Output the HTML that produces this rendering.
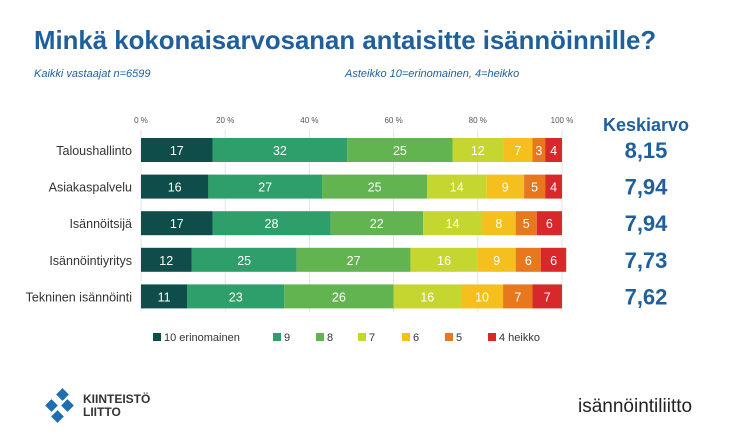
<!DOCTYPE html>
<html><head><meta charset="utf-8"><style>
body{margin:0;width:730px;height:434px;background:#fff;font-family:"Liberation Sans",sans-serif;position:relative;overflow:hidden}
.t{position:absolute;white-space:nowrap}
</style></head><body>
<div class="t" style="left:34px;top:27px;font-size:25.8px;font-weight:bold;color:#1f5f9c">Minkä kokonaisarvosanan antaisitte isännöinnille?</div>
<div class="t" style="left:34px;top:68px;font-size:11px;font-style:italic;color:#1f5f9c">Kaikki vastaajat n=6599</div>
<div class="t" style="left:345px;top:68px;font-size:11px;font-style:italic;color:#1f5f9c">Asteikko 10=erinomainen, 4=heikko</div>
<svg id="c" width="730" height="434" style="position:absolute;left:0;top:0"></svg>
<div class="t" style="left:44px;top:388px">
<svg width="36" height="36" viewBox="0 0 36 36"><g fill="#1f6fb0"><rect x="14" y="2" width="9" height="9" transform="rotate(45 18.5 6.5)"/><rect x="3" y="13" width="9" height="9" transform="rotate(45 7.5 17.5)"/><rect x="19" y="13" width="9" height="9" transform="rotate(45 23.5 17.5)"/><rect x="9" y="24" width="9" height="9" transform="rotate(45 13.5 28.5)"/></g></svg></div>
<div class="t" style="left:83px;top:393px;font-size:12px;font-weight:bold;color:#333;line-height:13px">KIINTEISTÖ<br>LIITTO</div>
<div class="t" style="left:578px;top:396px;font-size:19px;color:#222">isännöintiliitto</div>
<script>
const categories=["Taloushallinto","Asiakaspalvelu","Isännöitsijä","Isännöintiyritys","Tekninen isännöinti"];
const s10=[17,16,17,12,11];
const s9=[32,27,28,25,23];
const s8=[25,25,22,27,26];
const s7=[12,14,14,16,16];
const s6=[7,9,8,9,10];
const s5=[3,5,5,6,7];
const s4=[4,4,6,6,7];
const averages=["8,15","7,94","7,94","7,73","7,62"];
const seriesNames=["10 erinomainen","9","8","7","6","5","4 heikko"];
const ticks=[0,20,40,60,80,100];
const series=[s10,s9,s8,s7,s6,s5,s4];
const colors=["#0f4d4a","#2e9e6a","#62b450","#c6d631","#f5c01e","#e8781e","#d8282a"];
const svg=document.getElementById('c');const NS="http://www.w3.org/2000/svg";
const x0=141,pw=421,y0=150,dy=36.6,bh=24;
const X=v=>x0+v/100*pw, Y=i=>y0+i*dy;
function mk(t,a,txt){const e=document.createElementNS(NS,t);for(const k in a)e.setAttribute(k,a[k]);if(txt!=null)e.textContent=txt;svg.appendChild(e);return e;}
ticks.forEach(t=>{const g=mk('line',{x1:X(t),x2:X(t),y1:130,y2:312,stroke:"#e4e4e4"});


const l=mk('text',{x:X(t),y:123,'font-size':8,fill:'#555','text-anchor':'middle'},t+" %");

});
categories.forEach((c,i)=>{const l=mk('text',{x:132,y:Y(i)+5,'font-size':12.5,fill:'#333','text-anchor':'end'},c);


let cum=0;series.forEach((s,j)=>{const v=s[i];const r=mk('rect',{x:X(cum),y:Y(i)-bh/2,width:X(cum+v)-X(cum),height:bh,fill:colors[j]});


const tx=mk('text',{x:(X(cum)+X(cum+v))/2,y:Y(i)+5,'font-size':12.5,fill:'#fff','text-anchor':'middle'},v);


cum+=v;});
const a=mk('text',{x:646,y:Y(i)+8,'font-size':22,'font-weight':'bold',fill:'#1f5f9c','text-anchor':'middle'},averages[i]);

});
const h=mk('text',{x:646,y:131,'font-size':18,'font-weight':'bold',fill:'#1f5f9c','text-anchor':'middle'},"Keskiarvo");


const lx=[153,273,316,358,402,445,488];
seriesNames.forEach((n,j)=>{const r=mk('rect',{x:lx[j],y:333,width:8,height:8,fill:colors[j]});


const t=mk('text',{x:lx[j]+11,y:341,'font-size':11,fill:'#333'},n);

});
</script>
</body></html>
